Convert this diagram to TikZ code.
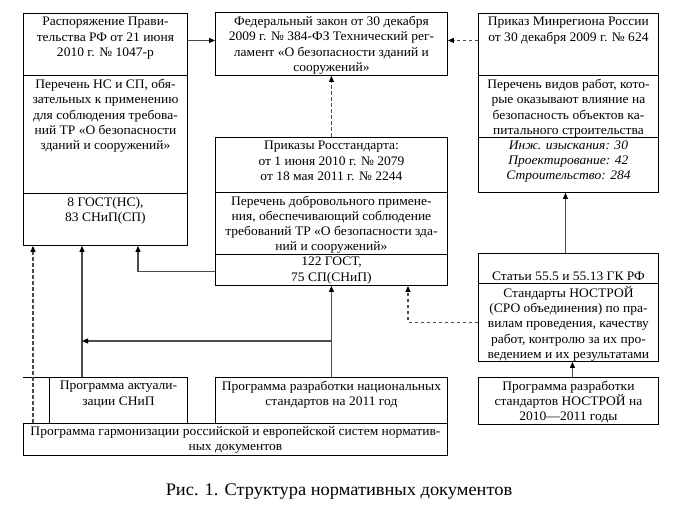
\documentclass[tikz,border=0pt]{standalone}
\usepackage{fontspec}
\setmainfont{Liberation Serif}[FakeStretch=1.04]
\usetikzlibrary{arrows.meta,calc}
\begin{document}
\begin{tikzpicture}[x=1pt,y=-1pt,
  sec/.style={draw=black,line width=0.9pt,inner sep=0pt,anchor=north west},
  txt/.style={align=center,inner sep=0pt,anchor=north,font=\fontsize{13}{15.3}\selectfont},
  conn/.style={draw=black!70,line width=1.1pt,-{Triangle[length=6pt,width=5pt,color=black]}},
  dconn/.style={conn,dash pattern=on 3.5pt off 2.5pt}]
\useasboundingbox[fill=white] (0,0) rectangle (675,510);
% left column
\node[sec,minimum width=164pt,minimum height=62pt] (L1) at (23,13) {};
\node[sec,minimum width=164pt,minimum height=118pt] (L2) at (23,75) {};
\node[sec,minimum width=164pt,minimum height=52pt] (L3) at (23,193) {};
\node[txt] (L1t) at ([yshift=-4pt]L1.north) {Распоряжение Прави-\\тельства РФ от 21 июня\\2010 г. № 1047-р};
\node[txt] (L2t) at ([yshift=-4pt]L2.north) {Перечень НС и СП, обя-\\зательных к применению\\для соблюдения требова-\\ний ТР «О безопасности\\зданий и сооружений»};
\node[txt] (L3t) at ([yshift=-4pt]L3.north) {8 ГОСТ(НС),\\83 СНиП(СП)};
% middle column
\node[sec,minimum width=232pt,minimum height=63pt] (M1) at (215,12) {};
\node[txt] (M1t) at ([yshift=-4pt]M1.north) {Федеральный закон от 30 декабря\\2009 г. № 384-ФЗ Технический рег-\\ламент «О безопасности зданий и\\сооружений»};
\node[sec,minimum width=232pt,minimum height=55pt] (M2) at (215,137) {};
\node[sec,minimum width=232pt,minimum height=62pt] (M3) at (215,192) {};
\node[sec,minimum width=232pt,minimum height=31pt] (M4) at (215,254) {};
\node[txt] (M2t) at ([yshift=-4pt]M2.north) {Приказы Росстандарта:\\от 1 июня 2010 г. № 2079\\от 18 мая 2011 г. № 2244};
\node[txt] (M3t) at ([yshift=-3.5pt]M3.north) {Перечень добровольного примене-\\ния, обеспечивающий соблюдение\\требований ТР «О безопасности зда-\\ний и сооружений»};
\node[txt] (M4t) at ([yshift=-3pt]M4.north) {122 ГОСТ,\\75 СП(СНиП)};
% right column
\node[sec,minimum width=180pt,minimum height=62pt] (R1) at (478,13) {};
\node[sec,minimum width=180pt,minimum height=62pt] (R2) at (478,75) {};
\node[sec,minimum width=180pt,minimum height=55pt] (R3) at (478,137) {};
\node[txt] (R1t) at ([yshift=-4pt]R1.north) {Приказ Минрегиона России\\от 30 декабря 2009 г. № 624};
\node[txt] (R2t) at ([yshift=-4pt]R2.north) {Перечень видов работ, кото-\\рые оказывают влияние на\\безопасность объектов ка-\\питального строительства};
\node[txt,font=\fontsize{13}{15.3}\selectfont\itshape] (R3t) at ([yshift=-3.5pt]R3.north) {Инж. изыскания: 30\\Проектирование: 42\\Строительство: 284};
\node[sec,minimum width=180pt,minimum height=30pt] (R5) at (478,253) {};
\node[sec,minimum width=180pt,minimum height=78pt] (R6) at (478,283) {};
\node[txt,anchor=base] (R5t) at ([yshift=3pt]R5.south) {Статьи 55.5 и 55.13 ГК РФ};
\node[txt] (R6t) at ([yshift=-3pt]R6.north) {Стандарты НОСТРОЙ\\(СРО объединения) по пра-\\вилам проведения, качеству\\работ, контролю за их про-\\ведением и их результатами};
\node[sec,minimum width=180pt,minimum height=47pt] (R7) at (478,377) {};
\node[txt] (R7t) at ([yshift=-3.5pt]R7.north) {Программа разработки\\стандартов НОСТРОЙ на\\2010---2011 годы};
% bottom
\node[sec,minimum width=138pt,minimum height=46pt] (PA) at (49,377) {};
\node[txt] (PAt) at ([yshift=-4pt]PA.north) {Программа актуали-\\зации СНиП};
\node[sec,minimum width=232pt,minimum height=46pt] (NS) at (215,377) {};
\node[txt] (NSt) at ([yshift=-4pt]NS.north) {Программа разработки национальных\\стандартов на 2011 год};
\node[sec,minimum width=424pt,minimum height=32pt] (H) at (23,423) {};
\node[txt] (Ht) at ([yshift=-3pt]H.north) {Программа гармонизации российской и европейской систем норматив-\\ных документов};
\draw[line width=0.9pt] (H.north west |- PA.north) -- (PA.north west);
% connectors
\draw[conn] ([yshift=4pt]L1.east) -- ([yshift=4pt]L1.east -| M1.west);
\draw[dconn] ([yshift=4pt]R1.west) -- ([yshift=4pt]R1.west -| M1.east);
\draw[dconn] (M2.north) -- (M1.south);
\draw[conn] ([yshift=-2pt]M4.west) -| ([xshift=115pt]L3.south west);
\draw[dconn] ([xshift=10pt]H.north west) -- ([xshift=10pt]L3.south west);
\draw[conn] ([xshift=33pt]PA.north west) -- ([xshift=59pt]L3.south west);
\draw[conn] (NS.north) -- (M4.south);
\coordinate (j1) at (331,341);
\coordinate (j2) at (82,341);
\draw[conn] (j1) -- (j2);
\draw[dconn] (R6.west) -| ([xshift=193pt]M4.south west);
\draw[conn] ([xshift=-3pt]R5.north) -- ([xshift=-3pt]R3.south);
\draw[conn] ([xshift=4pt]R7.north) -- ([xshift=4pt]R6.south);
% caption
\node[font=\fontsize{17.7}{20}\selectfont] (cap) at (339,492) {Рис. 1. Структура нормативных документов};
\end{tikzpicture}
\end{document}
